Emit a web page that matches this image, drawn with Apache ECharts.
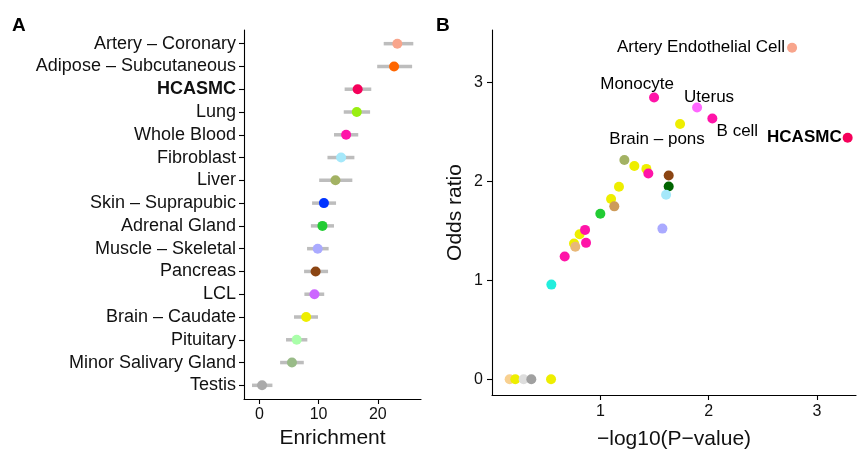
<!DOCTYPE html>
<html>
<head>
<meta charset="utf-8">
<script src="https://cdn.jsdelivr.net/npm/echarts@6/dist/echarts.min.js"></script>
<style>
  html, body { margin: 0; padding: 0; background: #fff; }
  #chart { width: 858px; height: 449px; }
</style>
</head>
<body>
<div id="chart"></div>
<script>
// Panel A: enrichment per tissue
let tissues = ['Artery – Coronary', 'Adipose – Subcutaneous', 'HCASMC', 'Lung', 'Whole Blood',
    'Fibroblast', 'Liver', 'Skin – Suprapubic', 'Adrenal Gland', 'Muscle – Skeletal',
    'Pancreas', 'LCL', 'Brain – Caudate', 'Pituitary', 'Minor Salivary Gland', 'Testis'];
let enrichment = [23.3, 22.75, 16.6, 16.45, 14.65, 13.8, 12.85, 10.9, 10.65, 9.85, 9.5, 9.3, 7.9, 6.3, 5.5, 0.45];
let enrichLow  = [21.0, 19.9, 14.4, 14.25, 12.6, 11.5, 10.1, 8.9, 8.7, 8.05, 7.55, 7.6, 5.85, 4.5, 3.5, -1.25];
let enrichHigh = [26.0, 25.8, 18.9, 18.7, 16.7, 16.05, 15.7, 12.95, 12.6, 11.7, 11.6, 10.95, 9.9, 8.1, 7.5, 2.2];
let tissueColors = ['#f8a58c', '#ff6600', '#f5005a', '#99ee11', '#ff14a8', '#a5e8fa', '#a3b263', '#0033ff',
    '#22cc33', '#aaaaff', '#8b4513', '#cc66ff', '#eeee00', '#aaffaa', '#99bb88', '#aaaaaa'];
let enrichTicks = [0, 10, 20];

// Panel B: odds ratio vs -log10(p)
let pvalB = [2.77, 1.496, 1.893, 2.034, 1.736, 3.283, 1.222, 1.314, 1.425, 1.443, 1.631, 1.631, 1.607,
    1.172, 1.099, 1.129, 1.0, 1.573, 0.809, 0.859, 0.757, 0.769, 0.868, 0.671, 0.548,
    0.163, 0.215, 0.292, 0.363, 0.545];
let oddsB = [3.35, 2.847, 2.746, 2.636, 2.579, 2.441, 2.216, 2.156, 2.126, 2.079, 2.059, 1.948, 1.864,
    1.945, 1.821, 1.747, 1.673, 1.522, 1.466, 1.509, 1.371, 1.338, 1.378, 1.24, 0.956,
    0, 0, 0, 0, 0];
let colorsB = ['#f8a58c', '#ff14a8', '#ff66ff', '#ff14a8', '#eeee00', '#f5005a', '#a3b263', '#eeee00', '#eeee00',
    '#ff14a8', '#8b4513', '#006400', '#a5e8fa', '#eeee00', '#eeee00', '#cd9b5a', '#22cc33', '#aaaaff',
    '#eeee00', '#ff14a8', '#eeee00', '#e8b878', '#ff14a8', '#ff14a8', '#22eedd',
    '#f8d090', '#eeee00', '#dddddd', '#a0a0a0', '#eeee00'];
let namesB = ['Artery Endothelial Cell', 'Monocyte', 'Uterus', 'B cell', 'Brain – pons', 'HCASMC'];
let xTicksB = [1, 2, 3];
let yTicksB = [0, 1, 2, 3];

const font = 'Liberation Sans, Arial, sans-serif';
const txt = '#111';

// label placement for the named points in B
let labelStyle = {
    'Artery Endothelial Cell': { position: 'left', distance: 2 },
    'Monocyte': { position: 'inside', offset: [-17, -13] },
    'Uterus': { position: 'inside', offset: [12, -10] },
    'B cell': { position: 'inside', offset: [25, 13] },
    'Brain – pons': { position: 'inside', offset: [-23, 15] },
    'HCASMC': { position: 'left', distance: 1, fontWeight: 'bold' }
};

let chart = echarts.init(document.getElementById('chart'), null, { renderer: 'canvas' });

let pointsA = enrichment.map(function (v, i) {
    return { value: [v, i], itemStyle: { color: tissueColors[i], opacity: 1 } };
});
let barsA = enrichment.map(function (v, i) {
    return [enrichLow[i], enrichHigh[i], i];
});
let pointsB = pvalB.map(function (v, i) {
    let item = { value: [v, oddsB[i]], itemStyle: { color: colorsB[i], opacity: 1 } };
    let name = namesB[i];
    if (name) {
        let s = labelStyle[name];
        item.label = Object.assign({
            show: true, formatter: name, color: '#000', fontSize: 17, fontFamily: font
        }, s);
    }
    return item;
});

function ticks(vals) {
    return { show: true, customValues: vals, length: 5, lineStyle: { color: '#000', width: 1.1 } };
}

function axisBase() {
    return {
        axisLine: { show: true, onZero: false, lineStyle: { color: '#000', width: 1.1 } },
        splitLine: { show: false },
        nameTextStyle: { fontSize: 21, color: txt, fontFamily: font }
    };
}

let option = {
    animation: false,
    backgroundColor: '#fff',
    title: [
        { text: 'A', left: 7, top: 11, textStyle: { fontSize: 19, fontWeight: 'bold', color: '#000', fontFamily: font } },
        { text: 'B', left: 431, top: 11, textStyle: { fontSize: 19, fontWeight: 'bold', color: '#000', fontFamily: font } }
    ],
    grid: [
        { left: 244, right: 437, top: 30, bottom: 50, outerBoundsMode: 'none', containLabel: false },
        { left: 492, right: 2, top: 30, bottom: 54, outerBoundsMode: 'none', containLabel: false }
    ],
    xAxis: [
        Object.assign(axisBase(), {
            gridIndex: 0, type: 'value', min: -2.6, max: 27.3,
            name: 'Enrichment', nameLocation: 'middle', nameGap: 29,
            axisLabel: { customValues: enrichTicks, fontSize: 16, color: txt, fontFamily: font, margin: 8 },
            axisTick: ticks(enrichTicks)
        }),
        Object.assign(axisBase(), {
            gridIndex: 1, type: 'value', min: 0, max: 3.36,
            name: '−log10(P−value)', nameLocation: 'middle', nameGap: 34,
            axisLabel: { customValues: xTicksB, fontSize: 16, color: txt, fontFamily: font, margin: 9 },
            axisTick: ticks(xTicksB)
        })
    ],
    yAxis: [
        Object.assign(axisBase(), {
            gridIndex: 0, type: 'value', min: -0.6, max: 15.6, inverse: true,
            axisLabel: {
                customValues: tissues.map(function (t, i) { return i; }),
                fontSize: 18, color: txt, fontFamily: font, margin: 8,
                formatter: function (v) {
                    let t = tissues[Math.round(v)];
                    return t === 'HCASMC' ? '{b|' + t + '}' : t;
                },
                rich: { b: { fontWeight: 'bold', fontSize: 18, color: txt, fontFamily: font } }
            },
            axisTick: ticks(tissues.map(function (t, i) { return i; }))
        }),
        Object.assign(axisBase(), {
            gridIndex: 1, type: 'value', min: -0.16, max: 3.53,
            name: 'Odds ratio', nameLocation: 'middle', nameGap: 26,
            axisLabel: { customValues: yTicksB, fontSize: 16, color: txt, fontFamily: font, margin: 9 },
            axisTick: ticks(yTicksB)
        })
    ],
    series: [
        {
            type: 'custom', xAxisIndex: 0, yAxisIndex: 0,
            encode: { x: [0, 1], y: 2 },
            data: barsA,
            renderItem: function (params, api) {
                let a = api.coord([api.value(0), api.value(2)]);
                let b = api.coord([api.value(1), api.value(2)]);
                return {
                    type: 'line',
                    shape: { x1: a[0], y1: a[1], x2: b[0], y2: b[1] },
                    style: { stroke: '#bdbdbd', lineWidth: 3.5 }
                };
            },
            z: 1
        },
        {
            type: 'scatter', xAxisIndex: 0, yAxisIndex: 0,
            symbolSize: 10, data: pointsA, z: 2
        },
        {
            type: 'scatter', xAxisIndex: 1, yAxisIndex: 1,
            symbolSize: 10, data: pointsB, z: 2
        }
    ]
};
option && chart.setOption(option);
</script>
</body>
</html>
